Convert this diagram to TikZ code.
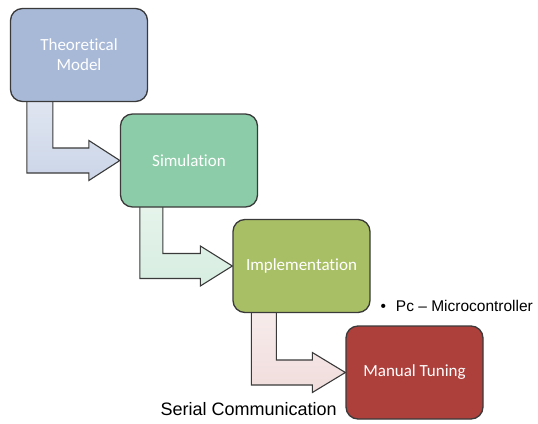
\documentclass[tikz,border=0pt]{standalone}
\usepackage{fontspec}
\setmainfont{Liberation Sans}
\newfontfamily\stagefont[Ligatures={NoCommon}]{Carlito}
\usetikzlibrary{calc,backgrounds}

\definecolor{theoryfill}{HTML}{A8B9D8}
\definecolor{simfill}{HTML}{8DCCA8}
\definecolor{implfill}{HTML}{A9BF66}
\definecolor{tunefill}{HTML}{AE403C}
\definecolor{edgegray}{HTML}{3A3A3A}

\tikzset{
  stage/.style={draw=edgegray, line width=1.3pt, rounded corners=12pt,
    minimum width=137pt, minimum height=93pt, text=white, align=center,
    font=\stagefont\fontsize{17}{20}\selectfont},
  bentarrow/.style={draw=edgegray, line width=1.1pt, line join=miter},
  note/.style={anchor=base west, font=\fontsize{15.5}{19}\selectfont}
}

\begin{document}
\begin{tikzpicture}[x=1pt, y=-1pt]
    \useasboundingbox (0,0) rectangle (538,423);

    % the four stages
    \node[stage, fill=theoryfill] (theory) at (79, 55) {Theoretical\\Model};
    \node[stage, fill=simfill] (sim) at (189, 160.5) {Simulation};
    \node[stage, fill=implfill] (impl) at (301.5, 266) {Implementation};
    \node[stage, fill=tunefill] (tuning) at (414.5, 372.5) {Manual Tuning};

    % side notes
    \node[note] (pcnote) at (377, 311) {\textbullet\hspace{10pt}Pc -- Microcontroller};
    \node[note, font=\fontsize{18}{21}\selectfont] (serialnote) at (157, 415) {Serial Communication};

    % bent arrows between the stages
    \begin{scope}[on background layer]
    \draw[bentarrow, top color=theoryfill!35, bottom color=theoryfill!60]
        ($(theory.south west)+(17,-4)$) |- ($(sim.west)+(-31,12.5)$)
        -- ++(0,7.5) -- (sim.west) -- ++(-31,-20) -- ++(0,7.5)
        -| ($(theory.south west)+(43,-4)$) -- cycle;
    \draw[bentarrow, top color=simfill!22, bottom color=simfill!35]
        ($(sim.south west)+(20,-4)$) |- ($(impl.west)+(-32,12.5)$)
        -- ++(0,7.5) -- (impl.west) -- ++(-32,-20) -- ++(0,7.5)
        -| ($(sim.south west)+(43,-4)$) -- cycle;
    \draw[bentarrow, top color=tunefill!10, bottom color=tunefill!18]
        ($(impl.south west)+(19,-4)$) |- ($(tuning.west)+(-33,12.5)$)
        -- ++(0,7.5) -- (tuning.west) -- ++(-33,-20) -- ++(0,7.5)
        -| ($(impl.south west)+(44,-4)$) -- cycle;
    \end{scope}
\end{tikzpicture}
\end{document}
